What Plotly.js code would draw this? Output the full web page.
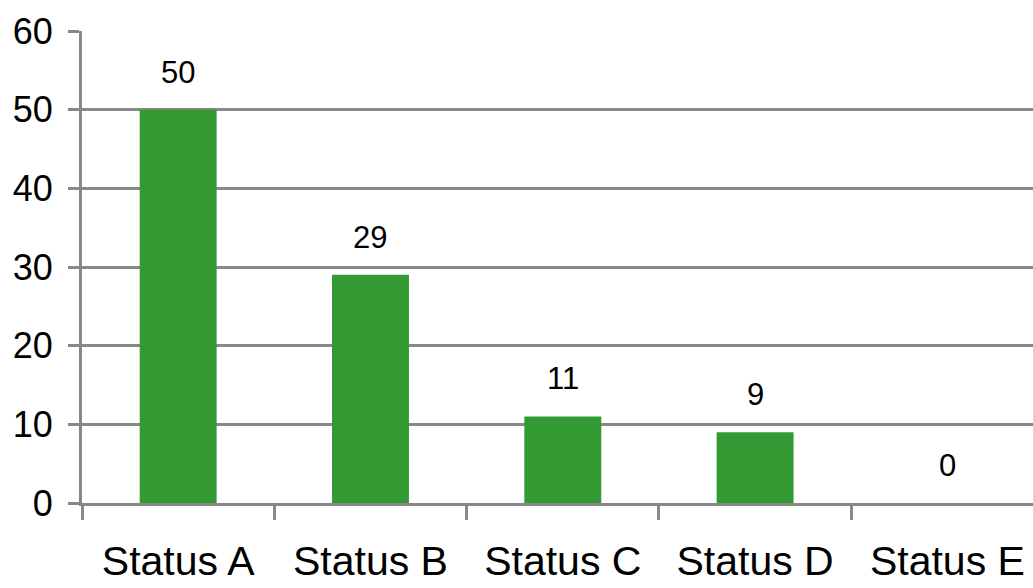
<!DOCTYPE html>
<html>
<head>
<meta charset="utf-8">
<script src="https://cdn.plot.ly/plotly-3.0.1.min.js"></script>
<style>html,body{margin:0;padding:0;background:#fff;}#chart{width:1033px;height:588px;}</style>
</head>
<body>
<div id="chart"></div>
<script>
const categories = ["Status A", "Status B", "Status C", "Status D", "Status E"];
const values = [50, 29, 11, 9, 0];
const yTicks = [0, 10, 20, 30, 40, 50, 60];

const FONT = "Liberation Sans, Arial, sans-serif";
const GRAY = "#888888";

const trace = {
  type: "bar",
  x: categories,
  y: values,
  marker: {color: "#339933"},
  hoverinfo: "none"
};

const annotations = categories.map((c, i) => ({
  x: c, y: values[i], xref: "x", yref: "y",
  text: String(values[i]),
  showarrow: false,
  yanchor: "bottom",
  yshift: 18,
  font: {family: FONT, size: 31, color: "#000"}
}));

const layout = {
  width: 1033, height: 588,
  margin: {l: 82, r: 0, t: 31, b: 85},
  paper_bgcolor: "#fff", plot_bgcolor: "#fff",
  showlegend: false,
  bargap: 0.6,
  xaxis: {
    type: "category",
    range: [-0.5, 4.445],
    showline: true, linecolor: GRAY, linewidth: 3,
    ticks: "outside", tickson: "boundaries", ticklen: 14, tickwidth: 3, tickcolor: GRAY,
    showgrid: false,
    tickfont: {family: FONT, size: 41, color: "#000"},
    ticklabelstandoff: 20
  },
  yaxis: {
    range: [0, 60],
    tickvals: yTicks,
    ticktext: yTicks.map(String),
    showline: true, linecolor: GRAY, linewidth: 3,
    ticks: "outside", ticklen: 11, tickwidth: 3, tickcolor: GRAY,
    showgrid: true, gridcolor: GRAY, gridwidth: 3,
    zeroline: false,
    tickfont: {family: FONT, size: 36, color: "#000"},
    ticklabelstandoff: 8
  },
  annotations: annotations
};

Plotly.newPlot("chart", [trace], layout, {staticPlot: true, displayModeBar: false});
</script>
</body>
</html>
